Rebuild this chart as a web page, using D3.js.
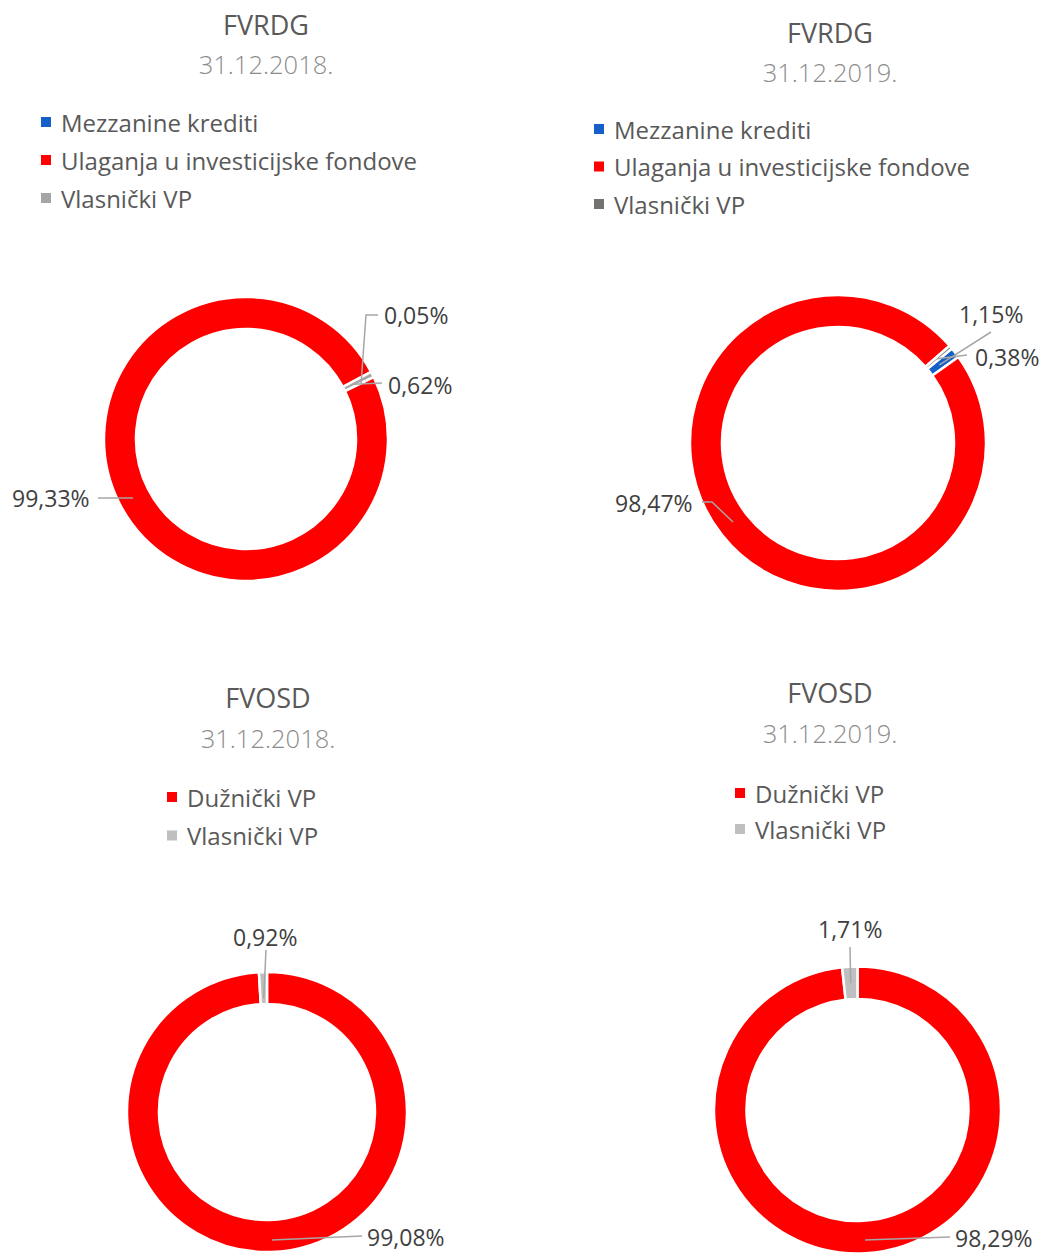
<!DOCTYPE html>
<html>
<head>
<meta charset="utf-8">
<script src="https://cdn.jsdelivr.net/npm/d3@7"></script>
<style>
  html, body { margin: 0; padding: 0; background: #fff; }
  svg { display: block; font-family: "Open Sans", "Noto Sans", sans-serif; }
</style>
</head>
<body>
<svg id="chart" width="1044" height="1253"></svg>
<script>
// ---- Data ----
const chartTitles = ["FVRDG", "FVRDG", "FVOSD", "FVOSD"];
const chartDates = ["31.12.2018.", "31.12.2019.", "31.12.2018.", "31.12.2019."];

const fvrdgCategories = ["Mezzanine krediti", "Ulaganja u investicijske fondove", "Vlasnički VP"];
const fvrdg2018 = [0.05, 99.33, 0.62];
const fvrdg2019 = [1.15, 98.47, 0.38];
const fvrdg2018Labels = ["0,05%", "99,33%", "0,62%"];
const fvrdg2019Labels = ["1,15%", "98,47%", "0,38%"];

const fvosdCategories = ["Dužnički VP", "Vlasnički VP"];
const fvosd2018 = [99.08, 0.92];
const fvosd2019 = [98.29, 1.71];
const fvosd2018Labels = ["99,08%", "0,92%"];
const fvosd2019Labels = ["98,29%", "1,71%"];

// ---- Styles / layout ----
const colorsTL = ["#1560C8", "#FF0000", "#A5A5A5"];
const colorsTR = ["#1560C8", "#FF0000", "#767171"];
const colorsB = ["#FF0000", "#BFBFBF"];

const panels = [
  {
    cats: fvrdgCategories, vals: fvrdg2018, labels: fvrdg2018Labels, colors: colorsTL,
    title: chartTitles[0], date: chartDates[0],
    titleX: 266, titleY: 24, dateY: 64,
    legendX: 41, legendY: 122, legendStep: 38,
    cx: 246, cy: 439, r: 142, ir: 110, start: 64,
    lab: [
      { x: 384, y: 315, path: (a) => [[378, 315], [366, 315], a], ar: 128 },
      { x: 12, y: 498, path: (a) => [[98, 498], a], ar: 127, fixedA: [133, 498] },
      { x: 388, y: 385, path: (a) => [[382, 383], a], ar: 120 }
    ]
  },
  {
    cats: fvrdgCategories, vals: fvrdg2019, labels: fvrdg2019Labels, colors: colorsTR,
    title: chartTitles[1], date: chartDates[1],
    titleX: 830, titleY: 32, dateY: 72,
    legendX: 594, legendY: 129, legendStep: 37.5,
    cx: 838, cy: 443, r: 148, ir: 116, start: 50.3,
    lab: [
      { x: 959, y: 314, path: (a) => [[991, 332], a], ar: 128 },
      { x: 615, y: 503, path: (a) => [[702, 502], [712, 502], a], ar: 130, fixedA: [733, 522] },
      { x: 975, y: 357, path: (a) => [[967, 355], a], ar: 130 }
    ]
  },
  {
    cats: fvosdCategories, vals: fvosd2018, labels: fvosd2018Labels, colors: colorsB,
    title: chartTitles[2], date: chartDates[2],
    titleX: 268, titleY: 697, dateY: 738,
    legendX: 167, legendY: 797, legendStep: 38.5,
    cx: 267, cy: 1112, r: 140, ir: 108, start: 0,
    lab: [
      { x: 367, y: 1237, path: (a) => [[362, 1236], a], ar: 124, fixedA: [272, 1240] },
      { x: 233, y: 937, path: (a) => [[266, 950], a], ar: 114 }
    ]
  },
  {
    cats: fvosdCategories, vals: fvosd2019, labels: fvosd2019Labels, colors: colorsB,
    title: chartTitles[3], date: chartDates[3],
    titleX: 830, titleY: 692, dateY: 733,
    legendX: 735, legendY: 793, legendStep: 36,
    cx: 857.5, cy: 1110, r: 143.5, ir: 111, start: 0,
    lab: [
      { x: 955, y: 1238, path: (a) => [[950, 1237], a], ar: 124, fixedA: [865, 1240] },
      { x: 818, y: 929, path: (a) => [[850, 947], a], ar: 127 }
    ]
  }
];

const svg = d3.select("#chart");
const toRad = Math.PI / 180;

panels.forEach((p) => {
  const g = svg.append("g");

  // Title and date
  g.append("text").attr("x", p.titleX).attr("y", p.titleY)
    .attr("text-anchor", "middle").attr("dominant-baseline", "central")
    .attr("font-size", 27).attr("fill", "#595959").text(p.title);
  g.append("text").attr("x", p.titleX).attr("y", p.dateY)
    .attr("text-anchor", "middle").attr("dominant-baseline", "central")
    .attr("font-size", 25.5).attr("font-weight", 300).attr("fill", "#8C8C8C").text(p.date);

  // Legend
  const leg = g.append("g");
  p.cats.forEach((c, i) => {
    const y = p.legendY + i * p.legendStep;
    leg.append("rect").attr("x", p.legendX).attr("y", y - 5)
      .attr("width", 10).attr("height", 10).attr("fill", p.colors[i]);
    leg.append("text").attr("x", p.legendX + 20).attr("y", y)
      .attr("dominant-baseline", "central")
      .attr("font-size", 24).attr("fill", "#595959").text(c);
  });

  // Donut
  const pie = d3.pie().sort(null).value(d => d)
    .startAngle(p.start * toRad).endAngle(p.start * toRad + 2 * Math.PI);
  const arcs = pie(p.vals);
  const arc = d3.arc().innerRadius(p.ir).outerRadius(p.r);
  const dg = g.append("g").attr("transform", `translate(${p.cx},${p.cy})`);
  dg.selectAll("path").data(arcs).join("path")
    .attr("d", arc)
    .attr("fill", (d, i) => p.colors[i])
    .attr("stroke", "#fff").attr("stroke-width", 2.5).attr("stroke-linejoin", "miter");

  // Data labels with leader lines
  arcs.forEach((d, i) => {
    const L = p.lab[i];
    const mid = (d.startAngle + d.endAngle) / 2;
    let anchorPt = [p.cx + L.ar * Math.sin(mid), p.cy - L.ar * Math.cos(mid)];
    if (L.fixedA) anchorPt = L.fixedA;
    const pts = L.path(anchorPt);
    g.append("path")
      .attr("d", d3.line()(pts))
      .attr("fill", "none").attr("stroke", "#A6A6A6").attr("stroke-width", 1.5);
    g.append("text").attr("x", L.x).attr("y", L.y)
      .attr("dominant-baseline", "central")
      .attr("font-size", 23).attr("fill", "#404040").text(p.labels[i]);
  });
});
</script>
</body>
</html>
